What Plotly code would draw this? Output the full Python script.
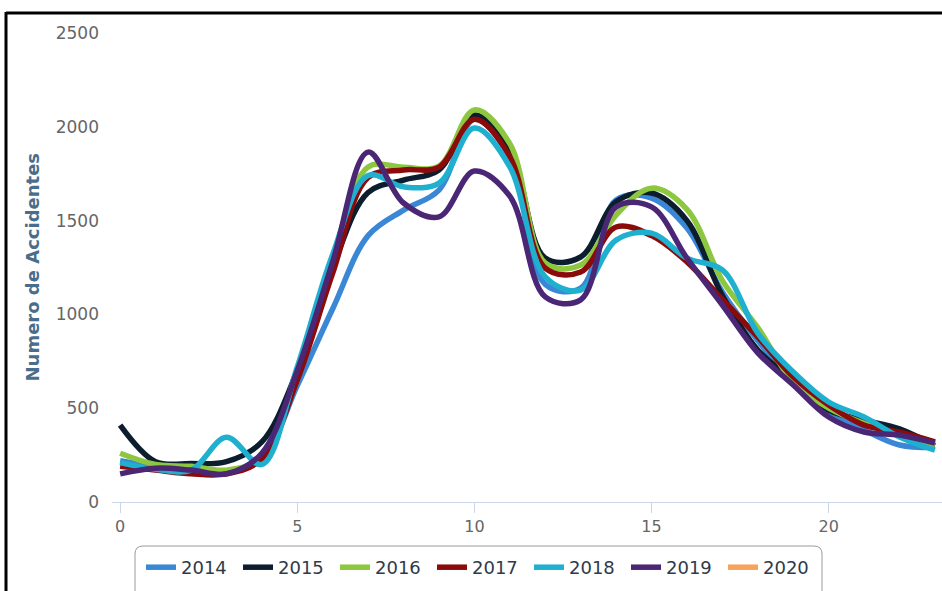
import plotly.graph_objects as go

hours = list(range(24))
years = ["2014", "2015", "2016", "2017", "2018", "2019", "2020"]

y2014 = [220, 190, 175, 165, 230, 620, 1030, 1420, 1556, 1663, 2040, 1840, 1160, 1140, 1610, 1620, 1460, 1120, 860, 640, 480, 384, 304, 290]
y2015 = [410, 215, 205, 215, 320, 700, 1250, 1650, 1716, 1770, 2063, 1880, 1300, 1306, 1600, 1647, 1500, 1100, 810, 650, 490, 437, 390, 300]
y2016 = [260, 200, 190, 170, 240, 690, 1300, 1786, 1785, 1790, 2090, 1910, 1274, 1263, 1530, 1673, 1560, 1180, 930, 640, 500, 420, 360, 300]
y2017 = [190, 170, 150, 150, 230, 650, 1220, 1730, 1770, 1785, 2040, 1840, 1247, 1226, 1466, 1420, 1280, 1080, 880, 667, 517, 410, 373, 320]
y2018 = [210, 175, 170, 345, 200, 720, 1320, 1740, 1680, 1700, 1993, 1786, 1200, 1130, 1396, 1433, 1300, 1237, 900, 693, 533, 453, 347, 277]
y2019 = [150, 180, 170, 150, 260, 700, 1280, 1865, 1594, 1520, 1764, 1630, 1093, 1077, 1573, 1573, 1300, 1050, 795, 624, 453, 373, 357, 314]
y2020 = [None]  # no data drawn for 2020, legend entry only

series = [y2014, y2015, y2016, y2017, y2018, y2019, y2020]
colors = ["#3a87d6", "#0c1e2e", "#8dc63f", "#8b0a0a", "#1fb0cf", "#4b2675", "#f7a35c"]

W, H = 942, 591
ML, MR, MT, MB = 112, 0, 33, 89
PW, PH = W - ML - MR, H - MT - MB
FONT = "DejaVu Sans"

def px_x(p):
    return (p - ML) / PW

def px_y(p):
    return (H - MB - p) / PH

fig = go.Figure()
for name, ys, c in zip(years, series, colors):
    fig.add_trace(go.Scatter(
        x=hours[:len(ys)], y=ys, name=name, mode="lines",
        line=dict(color=c, width=5.5, shape="spline", smoothing=1.0),
    ))

# rounded legend box
x0, x1, y0, y1 = px_x(135), px_x(822), px_y(546), px_y(600)
rx, ry = 8 / PW, 8 / PH
path = (f"M{x0+rx},{y0} L{x1-rx},{y0} Q{x1},{y0} {x1},{y0-ry} "
        f"L{x1},{y1+ry} Q{x1},{y1} {x1-rx},{y1} L{x0+rx},{y1} Q{x0},{y1} {x0},{y1+ry} "
        f"L{x0},{y0-ry} Q{x0},{y0} {x0+rx},{y0} Z")

fig.update_layout(
    width=W, height=H,
    margin=dict(l=ML, r=MR, t=MT, b=MB),
    paper_bgcolor="white", plot_bgcolor="white",
    font=dict(family=FONT, color="#666666"),
    xaxis=dict(range=[-0.23, 23.2], tickvals=[0, 5, 10, 15, 20], showgrid=False, zeroline=False,
               showline=True, linecolor="#ccd6eb", linewidth=1, ticks="outside", ticklen=10,
               tickcolor="#ccd6eb", tickfont=dict(size=16, color="#666666", family=FONT)),
    yaxis=dict(range=[0, 2500], tickvals=[0, 500, 1000, 1500, 2000, 2500], showgrid=False,
               zeroline=False, showline=False, ticks="", ticklabelstandoff=12,
               tickfont=dict(size=17, color="#666666", family=FONT)),
    showlegend=True,
    legend=dict(orientation="h", x=px_x(141), xanchor="left", y=px_y(549), yanchor="top",
                bgcolor="rgba(0,0,0,0)", borderwidth=0, entrywidth=52,
                font=dict(size=18, color="#2e3b4a", family=FONT), itemclick=False),
    shapes=[
        dict(type="path", path=path, xref="paper", yref="paper",
             line=dict(color="#9a9a9a", width=1), fillcolor="rgba(0,0,0,0)", layer="below"),
        dict(type="line", xref="paper", yref="paper", x0=px_x(6), x1=px_x(950), y0=px_y(13), y1=px_y(13),
             line=dict(color="black", width=3)),
        dict(type="line", xref="paper", yref="paper", x0=px_x(6), x1=px_x(6), y0=px_y(12), y1=px_y(600),
             line=dict(color="black", width=3)),
    ],
    annotations=[
        dict(text="<b>Numero de Accidentes</b>", textangle=-90, x=px_x(32), y=0.5, xref="paper", yref="paper",
             xanchor="center", yanchor="middle", showarrow=False,
             font=dict(size=18, color="#4a6d8c", family=FONT)),
    ],
)

fig.write_html("out.html", config={"displayModeBar": False},
               post_script="document.body.style.margin='0';document.body.style.overflow='hidden';")
